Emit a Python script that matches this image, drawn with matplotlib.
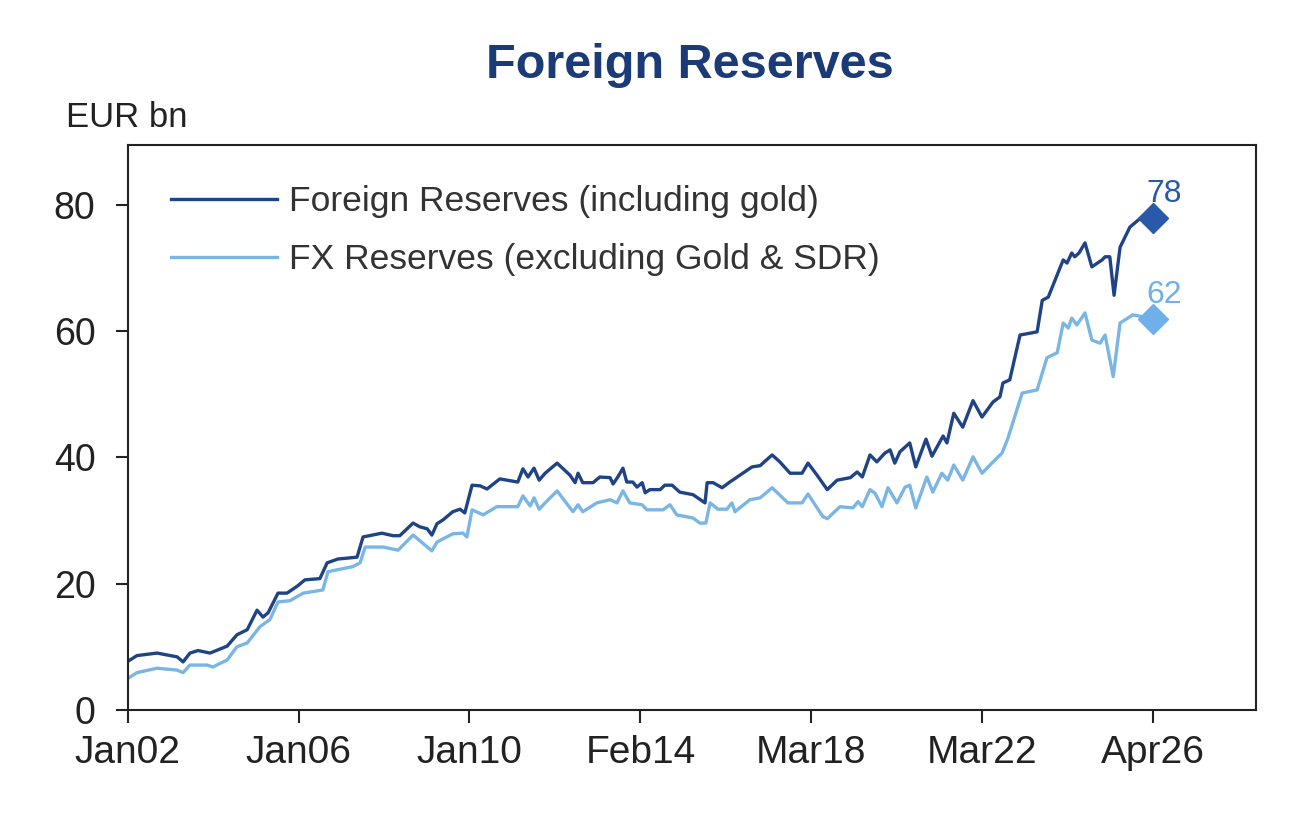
import numpy as np
import matplotlib
matplotlib.use("Agg")
import matplotlib.pyplot as plt

plt.rcParams['font.family'] = ['Liberation Sans', 'DejaVu Sans']

# --- data (x in decimal years, values in EUR bn) ---
fr_years = [2002.01, 2002.22, 2002.69, 2003.16, 2003.30, 2003.46, 2003.65, 2003.93, 2004.33, 2004.56,
            2004.80, 2005.03, 2005.17, 2005.29, 2005.52, 2005.73, 2005.97, 2006.15, 2006.50, 2006.67,
            2006.92, 2007.37, 2007.51, 2007.95, 2008.21, 2008.37, 2008.68, 2008.84, 2009.01, 2009.12,
            2009.24, 2009.38, 2009.61, 2009.78, 2009.89, 2010.06, 2010.25, 2010.41, 2010.71, 2011.13,
            2011.25, 2011.37, 2011.51, 2011.63, 2011.77, 2012.05, 2012.35, 2012.47, 2012.54, 2012.65,
            2012.89, 2013.05, 2013.29, 2013.36, 2013.47, 2013.59, 2013.68, 2013.82, 2013.92, 2014.04,
            2014.11, 2014.22, 2014.46, 2014.57, 2014.74, 2014.92, 2015.23, 2015.51, 2015.56, 2015.70,
            2015.91, 2016.09, 2016.61, 2016.80, 2017.08, 2017.26, 2017.50, 2017.78, 2017.92, 2018.13,
            2018.37, 2018.60, 2018.91, 2019.07, 2019.19, 2019.37, 2019.53, 2019.72, 2019.84, 2019.95,
            2020.07, 2020.30, 2020.44, 2020.68, 2020.82, 2021.08, 2021.17, 2021.33, 2021.54, 2021.78,
            2021.99, 2022.25, 2022.41, 2022.48, 2022.64, 2022.88, 2023.28, 2023.40, 2023.54, 2023.89,
            2023.98, 2024.09, 2024.16, 2024.26, 2024.40, 2024.56, 2024.80, 2024.87, 2024.98, 2025.08,
            2025.22, 2025.45, 2025.73, 2026.00]
fr_values = [7.7, 8.6, 9.0, 8.4, 7.6, 9.0, 9.4, 9.0, 10.1, 11.9,
             12.7, 15.8, 14.7, 15.4, 18.5, 18.5, 19.6, 20.6, 20.8, 23.3,
             23.9, 24.2, 27.4, 28.0, 27.6, 27.6, 29.6, 29.0, 28.7, 27.7,
             29.5, 30.1, 31.4, 31.8, 31.2, 35.6, 35.5, 35.0, 36.6, 36.1,
             38.2, 36.9, 38.3, 36.4, 37.5, 39.1, 37.2, 36.0, 37.5, 36.0,
             36.0, 36.9, 36.8, 35.8, 36.9, 38.3, 36.1, 36.1, 35.3, 36.0,
             34.4, 34.9, 34.9, 35.6, 35.6, 34.5, 34.1, 32.8, 36.0, 36.0,
             35.2, 36.1, 38.5, 38.7, 40.4, 39.3, 37.5, 37.5, 39.1, 37.2,
             34.9, 36.4, 36.8, 37.7, 36.9, 40.4, 39.3, 40.7, 41.2, 39.1,
             40.9, 42.3, 38.5, 42.9, 40.2, 43.4, 42.3, 47.0, 44.8, 49.0,
             46.4, 48.8, 49.6, 51.8, 52.3, 59.4, 59.9, 64.9, 65.4, 71.3,
             70.8, 72.4, 71.8, 72.4, 74.0, 70.2, 71.3, 71.8, 71.8, 65.7,
             73.3, 76.5, 78.1, 78.0]

fx_years = [2002.01, 2002.22, 2002.69, 2003.16, 2003.30, 2003.46, 2003.86, 2004.00, 2004.33, 2004.56,
            2004.80, 2005.10, 2005.33, 2005.52, 2005.80, 2006.11, 2006.57, 2006.69, 2007.27, 2007.44,
            2007.56, 2007.98, 2008.33, 2008.68, 2009.12, 2009.24, 2009.61, 2009.85, 2009.94, 2010.06,
            2010.32, 2010.64, 2011.13, 2011.25, 2011.42, 2011.51, 2011.63, 2011.77, 2012.05, 2012.42,
            2012.54, 2012.65, 2012.98, 2013.29, 2013.45, 2013.59, 2013.75, 2014.04, 2014.15, 2014.53,
            2014.69, 2014.85, 2015.23, 2015.39, 2015.53, 2015.63, 2015.81, 2016.02, 2016.14, 2016.21,
            2016.56, 2016.80, 2017.08, 2017.45, 2017.78, 2017.92, 2018.27, 2018.37, 2018.67, 2018.97,
            2019.09, 2019.19, 2019.37, 2019.49, 2019.65, 2019.79, 2020.00, 2020.19, 2020.30, 2020.44,
            2020.70, 2020.84, 2021.05, 2021.19, 2021.33, 2021.54, 2021.78, 2021.99, 2022.25, 2022.46,
            2022.60, 2022.93, 2023.28, 2023.51, 2023.75, 2023.89, 2024.01, 2024.09, 2024.21, 2024.40,
            2024.56, 2024.75, 2024.87, 2025.06, 2025.22, 2025.52, 2025.75, 2026.00]
fx_values = [5.0, 5.9, 6.6, 6.3, 5.9, 7.1, 7.1, 6.8, 7.9, 10.0,
             10.6, 13.2, 14.3, 17.1, 17.3, 18.5, 19.0, 21.9, 22.7, 23.3,
             25.8, 25.8, 25.3, 27.7, 25.2, 26.6, 27.9, 28.0, 27.4, 31.7,
             30.9, 32.2, 32.2, 33.9, 32.3, 33.6, 31.8, 32.8, 34.7, 31.4,
             32.5, 31.4, 32.8, 33.3, 32.8, 34.7, 32.8, 32.5, 31.7, 31.7,
             32.5, 30.9, 30.4, 29.6, 29.6, 32.8, 31.8, 31.8, 32.8, 31.4,
             33.3, 33.6, 35.2, 32.8, 32.8, 34.2, 30.6, 30.3, 32.2, 32.0,
             33.0, 32.2, 34.9, 34.3, 32.2, 35.2, 32.8, 35.3, 35.6, 32.0,
             36.9, 34.5, 37.5, 36.4, 38.8, 36.4, 40.1, 37.5, 39.3, 40.7,
             43.1, 50.2, 50.7, 55.8, 56.6, 61.3, 60.5, 62.1, 61.0, 62.9,
             58.6, 58.1, 59.4, 52.8, 61.3, 62.6, 62.3, 62.0]

tick_years = [2002, 2006, 2010, 2014, 2018, 2022, 2026]
tick_labels = ['Jan02', 'Jan06', 'Jan10', 'Feb14', 'Mar18', 'Mar22', 'Apr26']
y_ticks = [0, 20, 40, 60, 80]

dark_blue = '#1f4387'
dark_marker = '#2a58ab'
light_blue = '#7ab6e4'
light_marker = '#6fb0ea'

fig = plt.figure(figsize=(13.12, 8.15), dpi=100)
ax = fig.add_axes([0.0972, 0.129, 0.8601, 0.693])

ax.plot(fr_years, fr_values, color=dark_blue, lw=2.4, label='Foreign Reserves (including gold)')
ax.plot(fx_years, fx_values, color=light_blue, lw=2.4, label='FX Reserves (excluding Gold & SDR)')

# end markers + value labels
ax.plot(fr_years[-1], fr_values[-1], marker='D', ms=15, color=dark_marker, zorder=5)
ax.plot(fx_years[-1], fx_values[-1], marker='D', ms=15, color=light_marker, zorder=5)
ax.annotate(f'{fr_values[-1]:.0f}', (fr_years[-1], fr_values[-1]), xytext=(-5, 6),
            textcoords='offset points', fontsize=23, color=dark_marker, ha='left', va='bottom')
ax.annotate(f'{fx_values[-1]:.0f}', (fx_years[-1], fx_values[-1]), xytext=(-5, 6),
            textcoords='offset points', fontsize=23, color=light_marker, ha='left', va='bottom')

ax.set_xlim(2002, 2028.4)
ax.set_ylim(0, 89.5)
ax.set_xticks(tick_years)
ax.set_xticklabels(tick_labels)
ax.set_yticks(y_ticks)
ax.tick_params(axis='both', direction='out', length=9, width=1.5, color='#222222',
               labelcolor='#222222')
ax.tick_params(axis='x', labelsize=28, pad=9)
ax.tick_params(axis='y', labelsize=27, pad=14)
for s in ax.spines.values():
    s.set_linewidth(1.5)
    s.set_color('#222222')

ax.legend(loc='upper left', bbox_to_anchor=(0.01, 0.985), frameon=False, fontsize=25.5,
          handlelength=3.0, handletextpad=0.35, labelspacing=0.7,
          labelcolor='#333333')

fig.text(0.0503, 0.844, 'EUR bn', fontsize=25, color='#222222', ha='left', va='baseline')
fig.text(0.526, 0.904, 'Foreign Reserves', fontsize=35, fontweight='bold', color='#1b3a78',
         ha='center', va='baseline')

fig.savefig('out.png', dpi=100)
